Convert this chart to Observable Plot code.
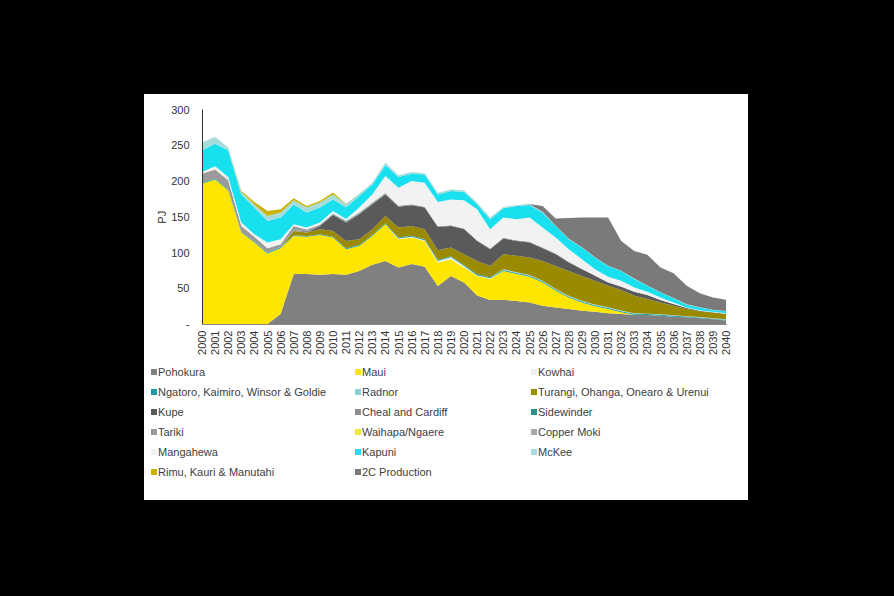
<!DOCTYPE html>
<html>
<head>
<meta charset="utf-8">
<script src="https://cdn.jsdelivr.net/npm/d3@7"></script>
<script src="https://cdn.jsdelivr.net/npm/@observablehq/plot@0.6"></script>
<style>
  html, body { margin: 0; padding: 0; background: #000; width: 894px; height: 596px; overflow: hidden; }
  #panel { position: absolute; left: 144px; top: 94px; width: 604px; height: 406px; background: #fff; }
  #chart { position: absolute; left: 0; top: 0; }
  #legend { position: absolute; left: 0; top: 0; width: 604px; height: 406px; font-family: "Liberation Sans", Arial, sans-serif; font-size: 11px; color: #404040; }
  .item { position: absolute; white-space: nowrap; line-height: 12px; height: 12px; }
  .sw { position: absolute; left: -7px; top: 3px; width: 6px; height: 6px; }
</style>
</head>
<body>
<div id="panel"><div id="chart"></div><div id="legend"></div></div>
<script>
const years = [2000,2001,2002,2003,2004,2005,2006,2007,2008,2009,2010,2011,2012,2013,2014,2015,2016,2017,2018,2019,2020,2021,2022,2023,2024,2025,2026,2027,2028,2029,2030,2031,2032,2033,2034,2035,2036,2037,2038,2039,2040];
const yTicks = [0, 50, 100, 150, 200, 250, 300];

const seriesNames = ["Pohokura","Maui","Kowhai","Ngatoro, Kaimiro, Winsor & Goldie","Radnor","Turangi, Ohanga, Onearo & Urenui","Kupe","Cheal and Cardiff","Sidewinder","Tariki","Waihapa/Ngaere","Copper Moki","Mangahewa","Kapuni","McKee","Rimu, Kauri & Manutahi","2C Production"];
const seriesColors = ["#808080","#ffe600","#efefef","#1a9fa8","#8fd0d4","#9a8a00","#5a5a5a","#8c8c8c","#2e8f8c","#9a9a9a","#f0e442","#a8a8a8","#f2f2f2","#19e0ee","#a6dcdc","#c8b400","#7a7a7a"];

const pohokura  = [0,0,0,0,0,0,14,70,70,69,70,69,74,83,88,79,84,80,53,67,58,40,33.5,34,32,30,25.5,23,21,18.6,17,15,14,13,12.5,11.6,10.2,9.3,8,6.5,5];
const maui      = [196,202,187,128,114,98.6,92,53,52,55.6,51,35.6,35,40,51.5,39.6,37,36,33,23.7,21,27,29.5,40,38,36,32.5,23.5,16,11.4,7.7,6,2.5,0,0,0,0,0,0,0,0];
const kowhai    = [0,0,0,0,0,0,0,0,0,0,0,0,0,0,0,1,1,1,2,2.5,2,1,1,0,0,0,0,0,0,0,0,0,0,0,0,0,0,0,0,0,0];
const ngatoro   = [1.5,1.5,1.5,1,1,1.4,1.5,1,1,1,1,1.5,1.5,1.5,1.5,1.5,1.5,1.5,1.5,1.5,1.5,1.5,1.5,1.5,1.5,1.5,1.5,1.5,1.5,1.5,1.5,1.5,1.5,1.5,1.5,1.5,1.5,1.2,1.2,1,1];
const radnor    = [0,0,0,0,0,0,0,0,0,0,0,0,0,0,0,0,0,0,0,0,0,0,0,1,1,1,1,1,1,1,1,0.8,0.8,0.5,0.5,0.5,0.5,0.5,0.5,0.5,0.5];
const turangi   = [0,0,0,0,0,0,0,6,5,7,8,10,8,8,10,14,13.5,14,13.5,12.3,15.2,18.5,15.5,21.2,22.8,24.5,27.5,32,34.5,34.5,33.2,30.2,28.6,24.5,20.5,16.4,13.3,10,8,8,7.5];
const kupe      = [0,0,0,0,0,0,0,0,0,4.4,22.5,26,35,35,30,29,29,30.4,32.8,30,35,28,23.6,21.8,20.7,21,18,16.7,12,9.7,7,4.5,4.6,5.5,5.5,3.5,2.5,1.5,1,0.5,0.5];
const cheal     = [0,0,0,0,0,0,0,1,2,1,1,1,1,1,1,1,1,1,1,1,1,1,1,1,1,1,1,1,1,0.5,0.5,0.3,0.3,0,0,0,0,0,0,0,0];
const sidewinder= [0,0,0,0,0,0,0,0,0,0,0.6,0.6,0.6,0.6,0.6,0,0,0,0,0,0,0,0,0,0,0,0,0,0,0,0,0,0,0,0,0,0,0,0,0,0];
const tariki    = [12.5,12.5,12.5,8,7,6,4,6,2,1,0,0,0,0,0,0,0,0,0,0,0,0,0,0,0,0,0,0,0,0,0,0,0,0,0,0,0,0,0,0,0];
const waihapa   = [0.5,0.5,0.5,0,0,0,0,0,0,0,0,0,0,0,0,0,0,0,0,0,0,0,0,0,0,0,0,0,0,0,0,0,0,0,0,0,0,0,0,0,0];
const copperMoki= [0,0,0,0,0,0,0,0,0,0,0,1,1,1,1,0.8,0.5,0,0,0,0,0,0,0,0,0,0,0,0,0,0,0,0,0,0,0,0,0,0,0,0];
const mangahewa = [2,4,4,5,3.6,8,7.1,2.5,3,3,3.9,2,6.9,10.9,23.4,24.8,32.5,33.8,33.7,36,39.3,43.5,27,28.5,29.5,34,28,22.3,17.6,13.5,8.8,7.7,8.1,6,4.5,3.5,2,0.5,0.5,0.5,0.5];
const kapuni    = [30.5,31.5,37.5,39,37.4,30,30.4,27.5,21,21,16,16.5,16,14,15,14.8,10,11.3,10.5,12,12,7,14,13,18.5,17.5,21,16,14,16.3,16.3,15,13.6,12,8.5,7,6,4,3.8,2.5,2.7];
const mckee     = [11,10,4,4,4,7,7,6,7,7,7,4.5,3,2.7,3.6,2.5,2.5,1.7,2.6,2,2,2.5,2.5,1.7,1,1,1,0.5,0.5,0.5,0.5,0.5,0.5,0.5,0.5,0.5,0.5,0.5,0.5,0.5,0.5];
const rimu      = [0,0,0,1.5,3.6,7,4.5,3,2,2,3,0.5,0,0,0,0,0,0,0,0,0,0,0,0,0,0,0,0,0,0,0,0,0,0,0,0,0,0,0,0,0];
const prod2C    = [0,0,0,0,0,0,0,0,0,0,0,0,0,0,0,0,0,0,0,0,0,0,0,0,0,0.5,8,10,29,41.5,55.5,67.5,41.5,38.5,42.7,34.5,34.5,26,19.5,17,15.8];

const seriesValues = [pohokura, maui, kowhai, ngatoro, radnor, turangi, kupe, cheal, sidewinder, tariki, waihapa, copperMoki, mangahewa, kapuni, mckee, rimu, prod2C];

const data = [];
seriesNames.forEach((name, i) => {
  years.forEach((yr, j) => data.push({year: yr, series: name, value: seriesValues[i][j]}));
});

const chart = Plot.plot({
  width: 604,
  height: 270,
  marginTop: 15.5,
  marginLeft: 58,
  marginRight: 22,
  marginBottom: 40,
  style: {fontFamily: "'Liberation Sans', Arial, sans-serif", fontSize: "11px", color: "#333", background: "transparent"},
  x: {domain: [2000, 2040]},
  y: {domain: [0, 300]},
  color: {domain: seriesNames, range: seriesColors},
  marks: [
    Plot.areaY(data, {x: "year", y: "value", fill: "series", order: seriesNames, curve: "linear"}),
    Plot.frame({anchor: "left", stroke: "#333"}),
    Plot.frame({anchor: "bottom", stroke: "#888"}),
    Plot.axisY({ticks: yTicks, tickFormat: d => d === 0 ? "-" : String(d), tickSize: 0, tickPadding: 13, label: "PJ", labelAnchor: "center", labelArrow: "none", labelOffset: 44, fontSize: 11}),
    Plot.axisX({ticks: years, tickFormat: d => String(d), tickRotate: -90, tickSize: 0, tickPadding: 6, label: null, fontSize: 11})
  ]
});
document.getElementById("chart").appendChild(chart);

// legend
const legend = document.getElementById("legend");
const colX = [14, 218, 394];
const rowY = [272, 292, 312, 332, 352, 372];
seriesNames.forEach((name, i) => {
  const c = i % 3, r = Math.floor(i / 3);
  const it = document.createElement("div");
  it.className = "item";
  it.style.left = colX[c] + "px";
  it.style.top = rowY[r] + "px";
  const sw = document.createElement("span");
  sw.className = "sw";
  sw.style.background = seriesColors[i];
  it.appendChild(sw);
  it.appendChild(document.createTextNode(name));
  legend.appendChild(it);
});
</script>
</body>
</html>
